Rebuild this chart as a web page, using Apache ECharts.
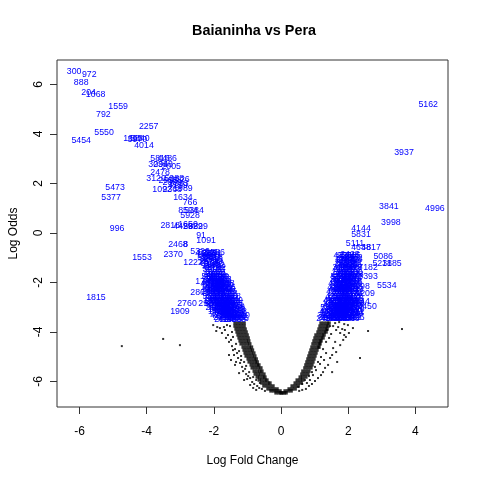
<!DOCTYPE html>
<html><head><meta charset="utf-8">
<script src="https://cdn.jsdelivr.net/npm/echarts@6/dist/echarts.min.js"></script>
<style>html,body{margin:0;padding:0;background:#fff}#c{width:480px;height:480px}</style>
</head><body><div id="c"></div>
<script>
// ---- axis ticks ----
const xTicks = [-6, -4, -2, 0, 2, 4];
const yTicks = [-6, -4, -2, 0, 2, 4, 6];

// ---- dense core of the V (rows: logOdds, [logFC values]) ----
const coreLeft = [
  [-3.64, [-1.37, -1.28, -1.19, -1.10]],
  [-3.76, [-1.37, -1.28, -1.19, -1.10]],
  [-3.88, [-1.34, -1.25, -1.16, -1.07]],
  [-4.00, [-1.31, -1.22, -1.13, -1.04]],
  [-4.12, [-1.28, -1.19, -1.10, -1.01]],
  [-4.24, [-1.25, -1.16, -1.07, -0.98]],
  [-4.36, [-1.22, -1.13, -1.04, -0.96]],
  [-4.48, [-1.19, -1.10, -1.01, -0.93]],
  [-4.61, [-1.13, -1.04, -0.95, -0.88]],
  [-4.73, [-1.10, -1.01, -0.92, -0.85]],
  [-4.85, [-1.07, -0.98, -0.89, -0.81]],
  [-4.97, [-1.04, -0.95, -0.86, -0.78]],
  [-5.09, [-0.98, -0.89, -0.80, -0.74]],
  [-5.21, [-0.95, -0.86, -0.77, -0.71]],
  [-5.33, [-0.89, -0.80, -0.71, -0.66]],
  [-5.45, [-0.86, -0.77, -0.68, -0.60]],
  [-5.58, [-0.80, -0.71, -0.63, -0.57]],
  [-5.70, [-0.77, -0.68, -0.60, -0.51]],
  [-5.82, [-0.71, -0.63, -0.54, -0.48]],
  [-5.94, [-0.65, -0.57, -0.48, -0.42]],
  [-6.06, [-0.57, -0.48, -0.39, -0.33]],
  [-6.18, [-0.51, -0.42, -0.33, -0.24]],
  [-6.30, [-0.39, -0.30, -0.21, -0.12]],
  [-6.38, [-0.30, -0.21, -0.12, -0.03]],
  [-6.46, [-0.15, -0.06, 0.03]]
];
const coreRight = [
  [-3.64, [1.19, 1.28, 1.37, 1.43]],
  [-3.76, [1.16, 1.25, 1.34, 1.40]],
  [-3.88, [1.13, 1.22, 1.31, 1.37]],
  [-4.00, [1.10, 1.19, 1.28, 1.34]],
  [-4.12, [1.04, 1.13, 1.22, 1.28]],
  [-4.24, [1.01, 1.10, 1.19, 1.25]],
  [-4.36, [0.98, 1.07, 1.16, 1.19]],
  [-4.48, [0.95, 1.04, 1.13, 1.16]],
  [-4.61, [0.92, 1.01, 1.10, 1.13]],
  [-4.73, [0.89, 0.98, 1.07]],
  [-4.85, [0.86, 0.95, 1.04]],
  [-4.97, [0.83, 0.92, 1.01]],
  [-5.09, [0.80, 0.89, 0.98]],
  [-5.21, [0.77, 0.86, 0.95]],
  [-5.33, [0.74, 0.83, 0.92]],
  [-5.45, [0.71, 0.80, 0.89]],
  [-5.58, [0.65, 0.74, 0.83]],
  [-5.70, [0.62, 0.71, 0.80]],
  [-5.82, [0.57, 0.65, 0.74]],
  [-5.94, [0.48, 0.57, 0.65]],
  [-6.06, [0.42, 0.51, 0.60]],
  [-6.18, [0.33, 0.42, 0.51]],
  [-6.30, [0.24, 0.33, 0.42]],
  [-6.38, [0.12, 0.21, 0.30]],
  [-6.46, [0.00, 0.09, 0.15]]
];

// ---- scattered individual genes (logFC, logOdds) ----
const scatterLeft = [
  [-1.82,-3.84],[-1.76,-4.04],[-1.67,-3.92],[-1.64,-4.24],[-1.58,-4.12],[-1.55,-4.40],
  [-1.49,-4.32],[-1.46,-4.57],[-1.43,-4.73],[-1.37,-4.69],[-1.40,-4.93],[-1.31,-4.85],
  [-1.28,-5.05],[-1.34,-5.21],[-1.22,-5.25],[-1.19,-5.13],[-1.16,-5.41],[-1.13,-5.58],
  [-1.07,-5.49],[-1.04,-5.70],[-0.98,-5.78],[-1.01,-5.90],[-0.92,-5.86],[-0.86,-6.02],
  [-0.80,-6.10],[-0.71,-6.18],[-0.65,-6.26],[-0.57,-6.30],[-1.61,-3.72],[-1.70,-3.80],
  [-1.52,-3.76],[-1.90,-3.80],[-2.02,-3.72],[-1.93,-3.96],[-1.55,-4.93],[-1.49,-5.13],
  [-1.37,-5.33],[-1.25,-5.66],[-1.10,-5.94],[-0.92,-6.14],[-0.83,-6.26],[-0.74,-6.34],
  [-0.48,-6.38],[-1.46,-4.00],[-1.43,-4.20],[-1.34,-4.48],[-1.25,-4.77],[-1.19,-4.97],
  [-1.10,-5.21],[-1.04,-5.37],[-0.95,-5.62],[-0.83,-5.82],[-0.74,-5.94],[-0.63,-6.06],
  [-3.51,-4.28],[-4.74,-4.57],[-3.01,-4.53]
];
const scatterRight = [
  [1.55,-3.76],[1.64,-3.92],[1.70,-3.80],[1.76,-4.04],[1.82,-3.88],[1.88,-4.12],
  [1.85,-4.32],[1.93,-4.20],[1.76,-4.53],[1.61,-4.40],[1.55,-4.65],[1.64,-4.81],
  [1.52,-4.93],[1.46,-5.05],[1.67,-5.21],[1.52,-5.62],[1.40,-5.33],[1.31,-5.45],
  [1.25,-5.62],[1.19,-5.74],[1.10,-5.86],[1.01,-5.98],[0.92,-6.10],[0.83,-6.18],
  [0.74,-6.30],[0.63,-6.34],[0.54,-6.38],[1.34,-4.40],[1.43,-4.24],[1.49,-4.08],
  [1.25,-4.69],[1.34,-4.85],[1.19,-5.01],[1.10,-5.21],[1.01,-5.41],[0.92,-5.62],
  [0.83,-5.78],[0.71,-5.94],[0.63,-6.10],[0.51,-6.22],[2.14,-3.84],[2.59,-3.96],
  [3.60,-3.88],[2.35,-5.05],[1.90,-3.92],[2.02,-4.04],[1.37,-3.92],[1.46,-3.76],
  [1.61,-3.64],[1.73,-3.60],[1.88,-3.68],[1.99,-3.72],[1.28,-5.13],[1.16,-5.29],
  [1.04,-5.54],[0.95,-5.74],[0.77,-6.06],[0.86,-5.94]
];

// ---- labelled top genes (logFC, logOdds, id) ----
const topGenesLeft = [
  [-6.16,6.53,"300"],[-5.71,6.41,"972"],[-5.95,6.09,"888"],[-5.73,5.68,"204"],
  [-5.52,5.60,"1068"],[-4.85,5.10,"1559"],[-5.29,4.78,"792"],[-3.94,4.30,"2257"],
  [-5.27,4.07,"5550"],[-5.95,3.74,"5454"],[-4.41,3.81,"1655"],[-4.20,3.81,"5840"],
  [-4.28,3.76,"3970"],[-4.08,3.53,"4014"],
  [-3.60,2.99,"5816"],[-3.39,2.99,"4486"],[-3.66,2.75,"3036"],[-3.51,2.75,"2948"],
  [-3.27,2.67,"2005"],[-3.60,2.46,"2478"],[-3.72,2.18,"3120"],[-3.36,2.10,"2955"],
  [-3.18,2.18,"5988"],[-3.01,2.14,"1826"],[-3.24,2.02,"2669"],[-3.04,1.98,"5393"],
  [-3.07,1.90,"4159"],[-3.54,1.74,"1092"],[-3.24,1.74,"2368"],[-2.92,1.78,"1989"],
  [-2.92,1.45,"1634"],[-2.71,1.21,"766"],[-2.77,0.89,"8594"],[-2.59,0.89,"5384"],
  [-2.71,0.69,"5928"],[-3.30,0.32,"2818"],[-2.77,0.36,"1650"],[-2.92,0.28,"4429"],
  [-2.62,0.28,"5829"],[-2.47,0.28,"3829"],[-2.38,-0.12,"91"],[-2.23,-0.32,"1091"],
  [-3.07,-0.48,"2468"],[-2.84,-0.48,"8"],[-3.21,-0.89,"2370"],[-4.14,-1.01,"1553"],
  [-2.41,-0.77,"5320"],[-2.17,-0.81,"5346"],[-1.96,-0.81,"1286"],[-2.62,-1.21,"1222"],
  [-2.26,-1.98,"1741"],[-2.41,-2.42,"2861"],[-2.80,-2.87,"2760"],[-2.17,-2.87,"2931"],
  [-3.01,-3.19,"1909"],[-5.51,-2.59,"1815"],[-4.88,0.16,"996"],[-4.94,1.82,"5473"],
  [-5.06,1.45,"5377"]
];
const topGenesRight = [
  [4.38,5.17,"5162"],[3.66,3.27,"3937"],[3.21,1.05,"3841"],[4.58,0.97,"4996"],
  [3.27,0.44,"3998"],[2.38,0.16,"4144"],[2.38,-0.08,"5831"],[2.20,-0.44,"5111"],
  [2.38,-0.57,"4638"],[2.68,-0.57,"4817"],[2.05,-0.89,"2423"],[3.04,-0.97,"5086"],
  [3.01,-1.25,"5231"],[3.30,-1.25,"1885"],[2.59,-1.41,"7182"],[2.59,-1.78,"3393"],
  [3.15,-2.14,"5534"],[2.35,-2.18,"2798"],[2.50,-2.46,"4209"],[2.56,-2.99,"3450"],
  [2.26,-3.19,"521"],[2.20,-3.43,"3466"],[2.35,-2.79,"1844"]
];
// dense clusters of overlapping labels
const clusterLeft = [
  [-2.26,-0.85,"4127"],[-2.14,-0.85,"388"],[-2.05,-0.85,"2291"],
  [-2.20,-1.01,"5062"],[-2.08,-1.01,"1477"],[-2.02,-1.01,"3318"],
  [-2.14,-1.17,"2604"],[-2.02,-1.17,"5719"],
  [-2.08,-1.33,"1183"],[-1.96,-1.33,"4452"],
  [-2.05,-1.49,"3906"],[-1.93,-1.49,"2137"],
  [-2.02,-1.66,"1528"],[-1.93,-1.66,"4870"],[-1.88,-1.66,"617"],
  [-2.02,-1.82,"3745"],[-1.90,-1.82,"2089"],[-1.82,-1.82,"5593"],
  [-2.05,-1.98,"1362"],[-1.93,-1.98,"4281"],[-1.82,-1.98,"2716"],[-1.76,-1.98,"3154"],
  [-2.05,-2.14,"5208"],[-1.93,-2.14,"1947"],[-1.82,-2.14,"4633"],[-1.70,-2.14,"2580"],
  [-2.05,-2.30,"3027"],[-1.93,-2.30,"1415"],[-1.82,-2.30,"5376"],[-1.73,-2.30,"2843"],[-1.64,-2.30,"4095"],
  [-2.02,-2.46,"1269"],[-1.90,-2.46,"3681"],[-1.79,-2.46,"5147"],[-1.67,-2.46,"2392"],[-1.58,-2.46,"4718"],
  [-1.99,-2.63,"3563"],[-1.88,-2.63,"1804"],[-1.76,-2.63,"4926"],[-1.64,-2.63,"2175"],[-1.52,-2.63,"5431"],
  [-1.96,-2.79,"2658"],[-1.85,-2.79,"4307"],[-1.73,-2.79,"1596"],[-1.61,-2.79,"3872"],[-1.49,-2.79,"5024"],
  [-1.93,-2.95,"4189"],[-1.82,-2.95,"2463"],[-1.70,-2.95,"5710"],[-1.58,-2.95,"1338"],[-1.46,-2.95,"3995"],[-1.40,-2.95,"2521"],
  [-1.88,-3.11,"1672"],[-1.76,-3.11,"4550"],[-1.64,-3.11,"2904"],[-1.52,-3.11,"5287"],[-1.40,-3.11,"3416"],[-1.34,-3.11,"1133"],
  [-1.79,-3.27,"3789"],[-1.67,-3.27,"2046"],[-1.55,-3.27,"4862"],[-1.43,-3.27,"1715"],[-1.31,-3.27,"5369"],
  [-1.73,-3.43,"2237"],[-1.61,-3.43,"4604"],[-1.49,-3.43,"3159"],[-1.37,-3.43,"1488"],[-1.28,-3.43,"5802"],
  // interleaved rows
  [-2.20,-0.93,"1904"],[-2.08,-0.93,"4561"],
  [-2.14,-1.09,"3275"],[-2.02,-1.09,"2816"],
  [-2.11,-1.25,"5139"],[-1.99,-1.25,"1650"],
  [-2.05,-1.41,"4308"],[-1.93,-1.41,"2792"],
  [-2.02,-1.58,"1045"],[-1.90,-1.58,"3621"],
  [-2.08,-1.74,"5587"],[-1.96,-1.74,"2234"],[-1.85,-1.74,"4716"],
  [-2.08,-1.90,"1398"],[-1.96,-1.90,"3852"],[-1.85,-1.90,"2961"],[-1.76,-1.90,"5473"],
  [-2.11,-2.06,"4019"],[-1.99,-2.06,"1726"],[-1.88,-2.06,"3340"],[-1.76,-2.06,"5215"],[-1.67,-2.06,"2608"],
  [-2.11,-2.22,"1583"],[-1.99,-2.22,"4497"],[-1.88,-2.22,"2069"],[-1.76,-2.22,"3738"],[-1.64,-2.22,"5156"],
  [-2.08,-2.38,"2412"],[-1.96,-2.38,"4980"],[-1.85,-2.38,"1357"],[-1.73,-2.38,"3604"],[-1.61,-2.38,"2285"],
  [-2.05,-2.55,"5341"],[-1.93,-2.55,"1812"],[-1.82,-2.55,"4073"],[-1.70,-2.55,"2749"],[-1.58,-2.55,"3196"],[-1.49,-2.55,"5628"],
  [-2.02,-2.71,"1467"],[-1.90,-2.71,"3925"],[-1.79,-2.71,"2558"],[-1.67,-2.71,"4844"],[-1.55,-2.71,"1281"],[-1.43,-2.71,"3509"],
  [-1.99,-2.87,"5092"],[-1.88,-2.87,"2376"],[-1.76,-2.87,"4629"],[-1.64,-2.87,"1948"],[-1.52,-2.87,"3167"],[-1.40,-2.87,"5765"],
  [-1.96,-3.03,"2183"],[-1.85,-3.03,"4412"],[-1.73,-3.03,"1536"],[-1.61,-3.03,"3890"],[-1.49,-3.03,"2627"],[-1.37,-3.03,"5048"],
  [-1.88,-3.19,"1739"],[-1.76,-3.19,"4265"],[-1.64,-3.19,"2991"],[-1.52,-3.19,"5317"],[-1.40,-3.19,"1604"],[-1.31,-3.19,"3482"],
  [-1.82,-3.35,"4736"],[-1.70,-3.35,"2150"],[-1.58,-3.35,"3813"],[-1.46,-3.35,"5409"],[-1.34,-3.35,"1976"],[-1.22,-3.35,"4920"],
  [-1.70,-3.51,"2534"],[-1.58,-3.51,"4177"],[-1.46,-3.51,"1823"],[-1.34,-3.51,"3668"],[-1.25,-3.47,"3306"]
];
const clusterRight = [
  [1.85,-0.93,"4371"],[1.96,-0.93,"2268"],[2.08,-0.93,"5615"],
  [1.90,-1.09,"1734"],[2.02,-1.09,"3492"],[2.14,-1.09,"4058"],
  [1.88,-1.25,"2817"],[1.99,-1.25,"5139"],[2.11,-1.25,"1627"],
  [1.82,-1.41,"3305"],[1.93,-1.41,"4786"],[2.05,-1.41,"2154"],[2.14,-1.41,"5473"],
  [1.79,-1.58,"1946"],[1.90,-1.58,"3668"],[2.02,-1.58,"4213"],[2.14,-1.58,"2530"],
  [1.76,-1.74,"5302"],[1.88,-1.74,"1385"],[1.99,-1.74,"3857"],[2.11,-1.74,"4402"],
  [1.73,-1.90,"2679"],[1.85,-1.90,"5046"],[1.96,-1.90,"1518"],[2.08,-1.90,"3731"],
  [1.70,-2.06,"4925"],[1.82,-2.06,"2388"],[1.93,-2.06,"5664"],[2.05,-2.06,"1207"],[2.14,-2.06,"3579"],
  [1.67,-2.22,"4140"],[1.79,-2.22,"2963"],[1.90,-2.22,"5228"],[2.02,-2.22,"1874"],[2.14,-2.22,"3446"],
  [1.64,-2.38,"4697"],[1.76,-2.38,"2112"],[1.88,-2.38,"5591"],[1.99,-2.38,"1359"],[2.11,-2.38,"3820"],
  [1.61,-2.55,"4267"],[1.73,-2.55,"2745"],[1.85,-2.55,"5183"],[1.96,-2.55,"1662"],[2.08,-2.55,"3984"],[2.17,-2.55,"2426"],
  [1.55,-2.71,"4812"],[1.67,-2.71,"1293"],[1.79,-2.71,"3547"],[1.90,-2.71,"5061"],[2.02,-2.71,"2894"],[2.14,-2.71,"4335"],
  [1.52,-2.87,"1781"],[1.64,-2.87,"3612"],[1.76,-2.87,"5457"],[1.88,-2.87,"2208"],[1.99,-2.87,"4749"],[2.11,-2.87,"1526"],[2.20,-2.87,"3093"],
  [1.46,-3.03,"5376"],[1.58,-3.03,"2641"],[1.70,-3.03,"4188"],[1.82,-3.03,"1902"],[1.93,-3.03,"3765"],[2.05,-3.03,"5520"],[2.17,-3.03,"2317"],
  [1.43,-3.19,"4453"],[1.55,-3.19,"1836"],[1.67,-3.19,"3290"],[1.79,-3.19,"5107"],[1.90,-3.19,"2582"],[2.02,-3.19,"4026"],[2.14,-3.19,"1449"],
  [1.37,-3.35,"3918"],[1.49,-3.35,"5265"],[1.61,-3.35,"2073"],[1.73,-3.35,"4611"],[1.85,-3.35,"1757"],[1.96,-3.35,"3352"],[2.08,-3.35,"5839"],
  [1.34,-3.47,"2496"],[1.46,-3.47,"4574"],[1.58,-3.47,"1128"],[1.70,-3.47,"3681"],[1.82,-3.47,"5194"],[1.93,-3.47,"2730"],[2.05,-3.47,"4863"],
  // interleaved rows
  [1.90,-1.01,"2945"],[2.02,-1.01,"5277"],[2.14,-1.01,"1362"],
  [1.93,-1.17,"4619"],[2.05,-1.17,"3084"],
  [1.88,-1.33,"1573"],[1.99,-1.33,"4326"],[2.11,-1.33,"2698"],
  [1.85,-1.49,"5410"],[1.96,-1.49,"1887"],[2.08,-1.49,"3253"],
  [1.82,-1.66,"2516"],[1.93,-1.66,"4970"],[2.05,-1.66,"1644"],[2.17,-1.66,"3728"],
  [1.79,-1.82,"5083"],[1.90,-1.82,"2359"],[2.02,-1.82,"4604"],[2.14,-1.82,"1192"],
  [1.76,-1.98,"3475"],[1.88,-1.98,"5726"],[1.99,-1.98,"2031"],[2.11,-1.98,"4158"],
  [1.73,-2.14,"1819"],[1.85,-2.14,"3962"],[1.96,-2.14,"2274"],[2.08,-2.14,"5345"],
  [1.70,-2.30,"4481"],[1.82,-2.30,"1726"],[1.93,-2.30,"3107"],[2.05,-2.30,"5592"],[2.17,-2.30,"2843"],
  [1.67,-2.46,"1265"],[1.79,-2.46,"4039"],[1.90,-2.46,"2687"],[2.02,-2.46,"5118"],[2.14,-2.46,"3374"],
  [1.64,-2.63,"4756"],[1.76,-2.63,"1508"],[1.88,-2.63,"3841"],[1.99,-2.63,"2193"],[2.11,-2.63,"5467"],
  [1.58,-2.79,"2962"],[1.70,-2.79,"4215"],[1.82,-2.79,"1374"],[1.93,-2.79,"3659"],[2.05,-2.79,"5031"],[2.17,-2.79,"2408"],
  [1.55,-2.95,"4827"],[1.67,-2.95,"1691"],[1.79,-2.95,"3136"],[1.90,-2.95,"5502"],[2.02,-2.95,"2275"],[2.14,-2.95,"4593"],
  [1.49,-3.11,"1943"],[1.61,-3.11,"3708"],[1.73,-3.11,"5260"],[1.85,-3.11,"2514"],[1.96,-3.11,"4382"],[2.08,-3.11,"1057"],[2.20,-3.11,"3629"],
  [1.46,-3.27,"5184"],[1.58,-3.27,"2837"],[1.70,-3.27,"4460"],[1.82,-3.27,"1605"],[1.93,-3.27,"3272"],[2.05,-3.27,"5713"],[2.17,-3.27,"2146"],
  [1.40,-3.43,"3991"],[1.52,-3.43,"1438"],[1.64,-3.43,"4702"],[1.76,-3.43,"2369"],[1.88,-3.43,"5126"],[1.99,-3.43,"3850"],[2.11,-3.43,"1782"]
];

// ---- build series data ----
function rowsToPoints(rows){ const out=[]; rows.forEach(r=>r[1].forEach(x=>out.push([x,r[0]]))); return out; }
const corePts = rowsToPoints(coreLeft).concat(rowsToPoints(coreRight));
const scatterPts = scatterLeft.concat(scatterRight);
const labels = topGenesLeft.concat(topGenesRight, clusterLeft, clusterRight);

const FONT = '"Liberation Sans", Arial, Helvetica, sans-serif';
const chart = echarts.init(document.getElementById('c'), null, {renderer:'canvas'});
chart.setOption({
  animation:false,
  backgroundColor:'#fff',
  title:{text:'Baianinha vs Pera', left:249, top:19, textAlign:'center',
    textStyle:{fontFamily:FONT, fontSize:14.4, fontWeight:'bold', color:'#000'}},
  grid:{left:57, right:32, top:60, bottom:73, show:true, borderColor:'#333', borderWidth:1, backgroundColor:'transparent'},
  xAxis:{type:'value', min:-6.67, max:4.97,
    axisLine:{show:false, onZero:false},
    axisTick:{show:true, inside:false, length:7, customValues:xTicks, lineStyle:{color:'#333', width:1}},
    axisLabel:{customValues:xTicks, color:'#000', fontSize:12, fontFamily:FONT, margin:19},
    splitLine:{show:false},
    name:'Log Fold Change', nameLocation:'middle', nameGap:48,
    nameTextStyle:{fontFamily:FONT, fontSize:12, color:'#000'}},
  yAxis:{type:'value', min:-7.03, max:6.99,
    axisLine:{show:false, onZero:false},
    axisTick:{show:true, inside:false, length:7, customValues:yTicks, lineStyle:{color:'#333', width:1}},
    axisLabel:{customValues:yTicks, color:'#000', fontSize:12, fontFamily:FONT, margin:12, rotate:90},
    splitLine:{show:false},
    name:'Log Odds', nameLocation:'middle', nameGap:37,
    nameTextStyle:{fontFamily:FONT, fontSize:12, color:'#000'}},
  series:[
    {type:'scatter', data:corePts, symbol:'rect', symbolSize:3.4, itemStyle:{color:'#000'}, silent:true, z:2},
    {type:'scatter', data:scatterPts, symbol:'rect', symbolSize:2, itemStyle:{color:'#000'}, silent:true, z:2},
    {type:'custom', coordinateSystem:'cartesian2d', silent:true, z:5,
      data:labels.map(d=>[d[0],d[1]]), encode:{x:0,y:1},
      renderItem:function(params, api){
        const p = api.coord([api.value(0), api.value(1)]);
        return {type:'text', x:p[0], y:p[1], style:{text:labels[params.dataIndex][2], fill:'#0000ff',
          font:'8.8px ' + FONT, align:'center', verticalAlign:'middle'}};
      }}
  ]
});
</script>
</body></html>
